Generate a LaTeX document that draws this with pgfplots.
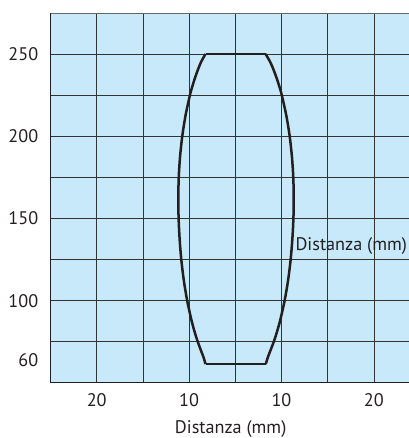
\documentclass[border=0pt]{standalone}
\usepackage{fontspec}
\setmainfont{PT Sans}
\usepackage{pgfplots}
\pgfplotsset{compat=1.18}
\definecolor{bgblue}{RGB}{199,233,249}
\definecolor{ink}{RGB}{35,31,32}
\begin{document}
\fontsize{18.2pt}{21pt}\selectfont
\begin{tikzpicture}
\begin{axis}[
  scale only axis,
  width=369.6pt, height=369pt,
  xmin=-4, xmax=4, ymin=50.3, ymax=274.6,
  axis background/.style={fill=bgblue},
  axis line style={draw=none},
  xtick={-3,-1,1,3}, xticklabels={20,10,10,20},
  minor xtick={-2,0,2},
  ytick={100,150,200,250},
  minor ytick={75,125,175,225},
  extra y ticks={64}, extra y tick labels={60},
  extra y tick style={grid=none},
  grid=both,
  major grid style={draw=black!80, line width=0.8pt},
  minor grid style={draw=black!80, line width=0.8pt},
  tick style={draw=none},
  /pgf/number format/assume math mode=true,
  ticklabel style={font=\fontsize{18.2pt}{21pt}\selectfont, text=ink},
  yticklabel style={xshift=-6pt},
  xticklabel style={yshift=-5pt},
  clip=false,
]
% contour: left side
\addplot[ink, line width=2.5pt, line join=round, smooth, tension=0.5] coordinates {
 (-0.645,250) (-0.743,245) (-0.815,240) (-0.878,235) (-0.933,230) (-0.982,225)
 (-1.078,212.5) (-1.148,200) (-1.196,187.5) (-1.224,175) (-1.234,162)
 (-1.227,150) (-1.205,137.5) (-1.169,125) (-1.115,112.5) (-1.041,100)
 (-0.943,87.5) (-0.869,80) (-0.812,75) (-0.746,70) (-0.680,65) (-0.645,61.5)};
% contour: right side
\addplot[ink, line width=2.5pt, line join=round, smooth, tension=0.5] coordinates {
 (0.655,250) (0.758,245) (0.834,240) (0.899,235) (0.956,230) (1.006,225)
 (1.105,212.5) (1.177,200) (1.226,187.5) (1.255,175) (1.265,162)
 (1.258,150) (1.235,137.5) (1.198,125) (1.143,112.5) (1.067,100)
 (0.966,87.5) (0.890,80) (0.832,75) (0.764,70) (0.697,65) (0.66,61.5)};
\addplot[ink, line width=2.5pt] coordinates {(-0.645,250) (0.655,250)};
\addplot[ink, line width=2.5pt] coordinates {(-0.645,61.5) (0.66,61.5)};
% frame
\draw[ink, line width=1.5pt] (rel axis cs:0,1) -- (rel axis cs:0,0) -- (rel axis cs:1,0);
\draw[black!60, line width=0.8pt] (rel axis cs:0,1) -- (rel axis cs:1,1);
\node[anchor=west, inner sep=0pt, text=ink] at (axis cs:1.3,133) {Distanza (mm)};
\coordinate (sw) at (rel axis cs:0,0);
\coordinate (ne) at (rel axis cs:0.9694,1);
\coordinate (xl) at (axis cs:-0.1,50.3);
\end{axis}
\node[anchor=base, text=ink] at ([yshift=-50.5pt]xl) {Distanza (mm)};
\pgfresetboundingbox
\path[use as bounding box] ([xshift=-50.5pt,yshift=-55.5pt]sw) rectangle ([yshift=13.5pt]ne);
\end{tikzpicture}
\end{document}
